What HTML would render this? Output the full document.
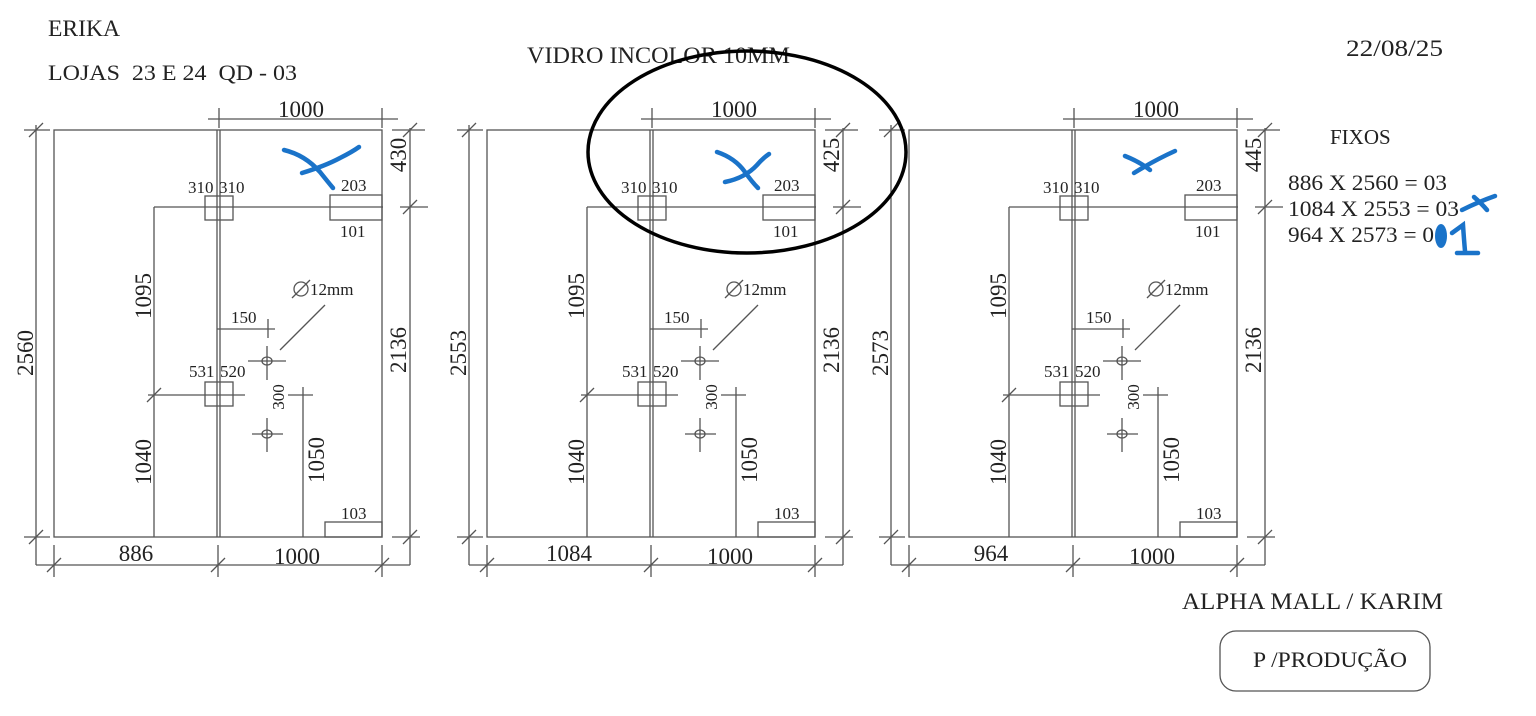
<!DOCTYPE html>
<html><head><meta charset="utf-8"><style>
html,body{margin:0;padding:0;background:#fff;}
svg{display:block;}
text{font-family:"Liberation Serif",serif;fill:#222;}
</style></head><body>
<svg width="1536" height="716" viewBox="0 0 1536 716" xmlns="http://www.w3.org/2000/svg">
<rect width="1536" height="716" fill="#fff"/>
<text x="48" y="36" font-size="23" textLength="72" lengthAdjust="spacingAndGlyphs">ERIKA</text>
<text x="48" y="80" font-size="22" textLength="249" lengthAdjust="spacingAndGlyphs" xml:space="preserve">LOJAS  23 E 24  QD - 03</text>
<text x="527" y="63" font-size="23" textLength="263" lengthAdjust="spacingAndGlyphs">VIDRO INCOLOR 10MM</text>
<text x="1346" y="56" font-size="23" textLength="97" lengthAdjust="spacingAndGlyphs">22/08/25</text>

<!-- PANEL 1 -->
<g stroke="#555" stroke-width="1.3" fill="none">
<rect x="54" y="130" width="328" height="407"/>
<line x1="217" y1="130" x2="217" y2="537"/><line x1="220" y1="130" x2="220" y2="537"/>
<line x1="24" y1="130" x2="50" y2="130"/><line x1="24" y1="537" x2="50" y2="537"/>
<line x1="36" y1="125" x2="36" y2="565"/><line x1="36" y1="565" x2="410" y2="565"/>
<line x1="54" y1="545" x2="54" y2="577"/><line x1="218" y1="545" x2="218" y2="577"/><line x1="382" y1="545" x2="382" y2="577"/>
<line x1="410" y1="128" x2="410" y2="565"/>
<line x1="392" y1="130" x2="425" y2="130"/><line x1="400" y1="207" x2="428" y2="207"/><line x1="392" y1="537" x2="420" y2="537"/>
<line x1="208" y1="119" x2="398" y2="119"/><line x1="219" y1="108" x2="219" y2="128"/><line x1="382" y1="108" x2="382" y2="128"/>
<line x1="154" y1="207" x2="383" y2="207"/><line x1="154" y1="207" x2="154" y2="537"/>
<rect x="205" y="196" width="28" height="24"/><rect x="330" y="195" width="52" height="25"/>
<line x1="148" y1="395" x2="245" y2="395"/><rect x="205" y="382" width="28" height="24"/>
<line x1="217" y1="329" x2="275" y2="329"/><line x1="268" y1="319" x2="268" y2="338"/>
<ellipse cx="267" cy="361" rx="5" ry="4"/><line x1="248" y1="361" x2="286" y2="361"/><line x1="267" y1="346" x2="267" y2="380"/>
<ellipse cx="267" cy="434" rx="5" ry="4"/><line x1="252" y1="434" x2="283" y2="434"/><line x1="267" y1="418" x2="267" y2="452"/>
<line x1="303" y1="387" x2="303" y2="537"/><line x1="288" y1="395" x2="313" y2="395"/>
<rect x="325" y="522" width="57" height="15"/>
<line x1="280" y1="350" x2="325" y2="305"/>
<circle cx="301" cy="289" r="7"/><line x1="292" y1="298" x2="310" y2="280"/>
<path d="M29 137L43 123M29 544L43 530M47 572L61 558M211 572L225 558M375 572L389 558M403 137L417 123M403 214L417 200M403 544L417 530M147 402L161 388"/>
</g>
<g font-size="23">
<text x="301" y="117" text-anchor="middle">1000</text>
<text x="136" y="561" text-anchor="middle">886</text>
<text x="297" y="564" text-anchor="middle">1000</text>
<text transform="translate(33,353) rotate(-90)" text-anchor="middle">2560</text>
<text transform="translate(406,155) rotate(-90)" text-anchor="middle">430</text>
<text transform="translate(406,350) rotate(-90)" text-anchor="middle">2136</text>
<text transform="translate(151,296) rotate(-90)" text-anchor="middle">1095</text>
<text transform="translate(151,462) rotate(-90)" text-anchor="middle">1040</text>
<text transform="translate(324,460) rotate(-90)" text-anchor="middle">1050</text>
</g>
<g font-size="17">
<text x="188" y="193">310</text><text x="219" y="193">310</text>
<text x="341" y="191">203</text><text x="340" y="237">101</text>
<text x="189" y="377">531</text><text x="220" y="377">520</text>
<text x="231" y="323">150</text><text x="310" y="295">12mm</text>
<text x="341" y="519">103</text>
<text transform="translate(284,397) rotate(-90)" text-anchor="middle">300</text>
</g>

<!-- PANEL 2 -->
<g transform="translate(433,0)">
<g stroke="#555" stroke-width="1.3" fill="none">
<rect x="54" y="130" width="328" height="407"/>
<line x1="217" y1="130" x2="217" y2="537"/><line x1="220" y1="130" x2="220" y2="537"/>
<line x1="24" y1="130" x2="50" y2="130"/><line x1="24" y1="537" x2="50" y2="537"/>
<line x1="36" y1="125" x2="36" y2="565"/><line x1="36" y1="565" x2="410" y2="565"/>
<line x1="54" y1="545" x2="54" y2="577"/><line x1="218" y1="545" x2="218" y2="577"/><line x1="382" y1="545" x2="382" y2="577"/>
<line x1="410" y1="128" x2="410" y2="565"/>
<line x1="392" y1="130" x2="425" y2="130"/><line x1="400" y1="207" x2="428" y2="207"/><line x1="392" y1="537" x2="420" y2="537"/>
<line x1="208" y1="119" x2="398" y2="119"/><line x1="219" y1="108" x2="219" y2="128"/><line x1="382" y1="108" x2="382" y2="128"/>
<line x1="154" y1="207" x2="383" y2="207"/><line x1="154" y1="207" x2="154" y2="537"/>
<rect x="205" y="196" width="28" height="24"/><rect x="330" y="195" width="52" height="25"/>
<line x1="148" y1="395" x2="245" y2="395"/><rect x="205" y="382" width="28" height="24"/>
<line x1="217" y1="329" x2="275" y2="329"/><line x1="268" y1="319" x2="268" y2="338"/>
<ellipse cx="267" cy="361" rx="5" ry="4"/><line x1="248" y1="361" x2="286" y2="361"/><line x1="267" y1="346" x2="267" y2="380"/>
<ellipse cx="267" cy="434" rx="5" ry="4"/><line x1="252" y1="434" x2="283" y2="434"/><line x1="267" y1="418" x2="267" y2="452"/>
<line x1="303" y1="387" x2="303" y2="537"/><line x1="288" y1="395" x2="313" y2="395"/>
<rect x="325" y="522" width="57" height="15"/>
<line x1="280" y1="350" x2="325" y2="305"/>
<circle cx="301" cy="289" r="7"/><line x1="292" y1="298" x2="310" y2="280"/>
<path d="M29 137L43 123M29 544L43 530M47 572L61 558M211 572L225 558M375 572L389 558M403 137L417 123M403 214L417 200M403 544L417 530M147 402L161 388"/>
</g>
<g font-size="23">
<text x="301" y="117" text-anchor="middle">1000</text>
<text x="136" y="561" text-anchor="middle">1084</text>
<text x="297" y="564" text-anchor="middle">1000</text>
<text transform="translate(33,353) rotate(-90)" text-anchor="middle">2553</text>
<text transform="translate(406,155) rotate(-90)" text-anchor="middle">425</text>
<text transform="translate(406,350) rotate(-90)" text-anchor="middle">2136</text>
<text transform="translate(151,296) rotate(-90)" text-anchor="middle">1095</text>
<text transform="translate(151,462) rotate(-90)" text-anchor="middle">1040</text>
<text transform="translate(324,460) rotate(-90)" text-anchor="middle">1050</text>
</g>
<g font-size="17">
<text x="188" y="193">310</text><text x="219" y="193">310</text>
<text x="341" y="191">203</text><text x="340" y="237">101</text>
<text x="189" y="377">531</text><text x="220" y="377">520</text>
<text x="231" y="323">150</text><text x="310" y="295">12mm</text>
<text x="341" y="519">103</text>
<text transform="translate(284,397) rotate(-90)" text-anchor="middle">300</text>
</g>
</g>

<!-- PANEL 3 -->
<g transform="translate(855,0)">
<g stroke="#555" stroke-width="1.3" fill="none">
<rect x="54" y="130" width="328" height="407"/>
<line x1="217" y1="130" x2="217" y2="537"/><line x1="220" y1="130" x2="220" y2="537"/>
<line x1="24" y1="130" x2="50" y2="130"/><line x1="24" y1="537" x2="50" y2="537"/>
<line x1="36" y1="125" x2="36" y2="565"/><line x1="36" y1="565" x2="410" y2="565"/>
<line x1="54" y1="545" x2="54" y2="577"/><line x1="218" y1="545" x2="218" y2="577"/><line x1="382" y1="545" x2="382" y2="577"/>
<line x1="410" y1="128" x2="410" y2="565"/>
<line x1="392" y1="130" x2="425" y2="130"/><line x1="400" y1="207" x2="428" y2="207"/><line x1="392" y1="537" x2="420" y2="537"/>
<line x1="208" y1="119" x2="398" y2="119"/><line x1="219" y1="108" x2="219" y2="128"/><line x1="382" y1="108" x2="382" y2="128"/>
<line x1="154" y1="207" x2="383" y2="207"/><line x1="154" y1="207" x2="154" y2="537"/>
<rect x="205" y="196" width="28" height="24"/><rect x="330" y="195" width="52" height="25"/>
<line x1="148" y1="395" x2="245" y2="395"/><rect x="205" y="382" width="28" height="24"/>
<line x1="217" y1="329" x2="275" y2="329"/><line x1="268" y1="319" x2="268" y2="338"/>
<ellipse cx="267" cy="361" rx="5" ry="4"/><line x1="248" y1="361" x2="286" y2="361"/><line x1="267" y1="346" x2="267" y2="380"/>
<ellipse cx="267" cy="434" rx="5" ry="4"/><line x1="252" y1="434" x2="283" y2="434"/><line x1="267" y1="418" x2="267" y2="452"/>
<line x1="303" y1="387" x2="303" y2="537"/><line x1="288" y1="395" x2="313" y2="395"/>
<rect x="325" y="522" width="57" height="15"/>
<line x1="280" y1="350" x2="325" y2="305"/>
<circle cx="301" cy="289" r="7"/><line x1="292" y1="298" x2="310" y2="280"/>
<path d="M29 137L43 123M29 544L43 530M47 572L61 558M211 572L225 558M375 572L389 558M403 137L417 123M403 214L417 200M403 544L417 530M147 402L161 388"/>
</g>
<g font-size="23">
<text x="301" y="117" text-anchor="middle">1000</text>
<text x="136" y="561" text-anchor="middle">964</text>
<text x="297" y="564" text-anchor="middle">1000</text>
<text transform="translate(33,353) rotate(-90)" text-anchor="middle">2573</text>
<text transform="translate(406,155) rotate(-90)" text-anchor="middle">445</text>
<text transform="translate(406,350) rotate(-90)" text-anchor="middle">2136</text>
<text transform="translate(151,296) rotate(-90)" text-anchor="middle">1095</text>
<text transform="translate(151,462) rotate(-90)" text-anchor="middle">1040</text>
<text transform="translate(324,460) rotate(-90)" text-anchor="middle">1050</text>
</g>
<g font-size="17">
<text x="188" y="193">310</text><text x="219" y="193">310</text>
<text x="341" y="191">203</text><text x="340" y="237">101</text>
<text x="189" y="377">531</text><text x="220" y="377">520</text>
<text x="231" y="323">150</text><text x="310" y="295">12mm</text>
<text x="341" y="519">103</text>
<text transform="translate(284,397) rotate(-90)" text-anchor="middle">300</text>
</g>
</g>

<!-- ellipse annotation -->
<ellipse cx="747" cy="152" rx="159" ry="101" fill="none" stroke="#000" stroke-width="3.5"/>

<!-- blue marks -->
<g stroke="#1a73c9" stroke-width="4.5" fill="none" stroke-linecap="round">
<path d="M284 150Q305 155 320 172Q328 182 333 188"/><path d="M302 173Q325 166 340 158Q352 152 359 147"/>
<path d="M717 152Q735 158 745 172Q752 182 758 188"/><path d="M725 182Q745 178 757 165Q763 158 769 154"/>
<path d="M1125 156Q1140 162 1150 170"/><path d="M1134 173Q1155 160 1175 151"/>
<path d="M1462 210Q1478 202 1495 196"/><path d="M1474 197Q1482 204 1487 210"/>
<path d="M1452 233L1463 225Q1464 240 1465 251"/><path d="M1457 253L1478 253"/>
</g>
<ellipse cx="1441" cy="236" rx="6" ry="12" fill="#1a73c9"/>

<!-- right text -->
<text x="1330" y="144" font-size="21">FIXOS</text>
<text x="1288" y="190" font-size="22" textLength="159" lengthAdjust="spacingAndGlyphs">886 X 2560 = 03</text>
<text x="1288" y="216" font-size="22" textLength="171" lengthAdjust="spacingAndGlyphs">1084 X 2553 = 03</text>
<text x="1288" y="242" font-size="22" textLength="146" lengthAdjust="spacingAndGlyphs">964 X 2573 = 0</text>

<text x="1182" y="609" font-size="23" textLength="261" lengthAdjust="spacingAndGlyphs">ALPHA MALL / KARIM</text>
<rect x="1220" y="631" width="210" height="60" rx="16" fill="none" stroke="#555" stroke-width="1.3"/>
<text x="1253" y="667" font-size="22" textLength="154" lengthAdjust="spacingAndGlyphs">P /PRODUÇÃO</text>
</svg>
</body></html>
